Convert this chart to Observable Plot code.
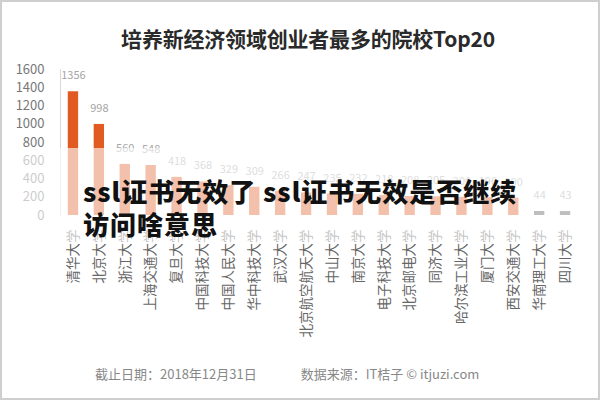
<!DOCTYPE html>
<html>
<head>
<meta charset="utf-8">
<script src="https://cdn.jsdelivr.net/npm/d3@7"></script>
<script src="https://cdn.jsdelivr.net/npm/@observablehq/plot@0.6"></script>
<style>
  html, body { margin: 0; padding: 0; background: #fff; }
  #wrap { position: relative; width: 600px; height: 400px; box-sizing: border-box; border: 2px solid #cfcfcf; overflow: hidden; font-family: "Noto Sans CJK SC", "Noto Sans", sans-serif; }
  #title { position: absolute; left: 6px; top: 21px; width: 600px; text-align: center; font-size: 21px; font-weight: 700; color: #2a2a2a; letter-spacing: -0.2px; }
  #chart { position: absolute; left: -2px; top: 48px; }
  #veil { position: absolute; left: 0; top: 146px; width: 600px; height: 96px; background: rgba(255,255,255,0.62); }
  #overlay { position: absolute; left: 81px; top: 172px; font-size: 26px; font-weight: 900; color: #111; line-height: 33px; letter-spacing: 1px; }
  #footer { position: absolute; left: 93px; top: 362px; width: 520px; font-size: 13px; color: #888; white-space: nowrap; }
  #footer span + span { margin-left: 44px; }
</style>
</head>
<body>
<div id="wrap">
  <div id="title">培养新经济领域创业者最多的院校Top20</div>
  <div id="chart"></div>
  <div id="veil"></div>
  <div id="overlay">ssl证书无效了 ssl证书无效是否继续<br>访问啥意思</div>
  <div id="footer"><span>截止日期：2018年12月31日</span><span>数据来源：IT桔子 © itjuzi.com</span></div>
</div>
<script>
const schools = ["清华大学","北京大学","浙江大学","上海交通大学","复旦大学","中国科技大学","中国人民大学","华中科技大学","武汉大学","北京航空航天大学","中山大学","南京大学","电子科技大学","北京邮电大学","同济大学","哈尔滨工业大学","厦门大学","西安交通大学","华南理工大学","四川大学"];
const counts = [1356, 998, 560, 548, 418, 368, 329, 309, 266, 247, 235, 232, 218, 208, 205, 200, 196, 190, 44, 43];
const groups = ["main","main","main","main","main","main","main","main","main","main","main","main","main","main","main","main","main","main","other","other"];
const yTicks = [0, 200, 400, 600, 800, 1000, 1200, 1400, 1600];

const data = schools.map((s, i) => ({school: s, count: counts[i], group: groups[i]}));

const chart = Plot.plot({
  width: 598,
  height: 312,
  marginTop: 19,
  marginBottom: 147,
  marginLeft: 60,
  marginRight: 20,
  style: {fontFamily: "'Noto Sans CJK SC', 'Noto Sans', sans-serif", background: "transparent"},
  x: {domain: schools, paddingInner: 0.6, paddingOuter: 0.3, round: false, label: null},
  y: {domain: [0, 1600], label: null},
  color: {domain: ["main", "other"], range: ["#e05a22", "#555555"]},
  marks: [
    Plot.frame({anchor: "left", stroke: "#d8d8d8"}),
    Plot.barY(data, {x: "school", y: "count", fill: "group"}),
    Plot.text(data, {x: "school", y: "count", text: d => String(d.count), dy: -16, fill: "#a5a5a5", fontSize: 11, letterSpacing: "-0.4px"}),
    Plot.axisY({ticks: yTicks, tickSize: 0, tickPadding: 16, fontSize: 13, color: "#777", tickFormat: d => String(d)}),
    Plot.axisX({tickSize: 0, tickPadding: 14, tickRotate: -90, fontSize: 13.5, color: "#666"})
  ]
});
document.getElementById("chart").appendChild(chart);
</script>
</body>
</html>
